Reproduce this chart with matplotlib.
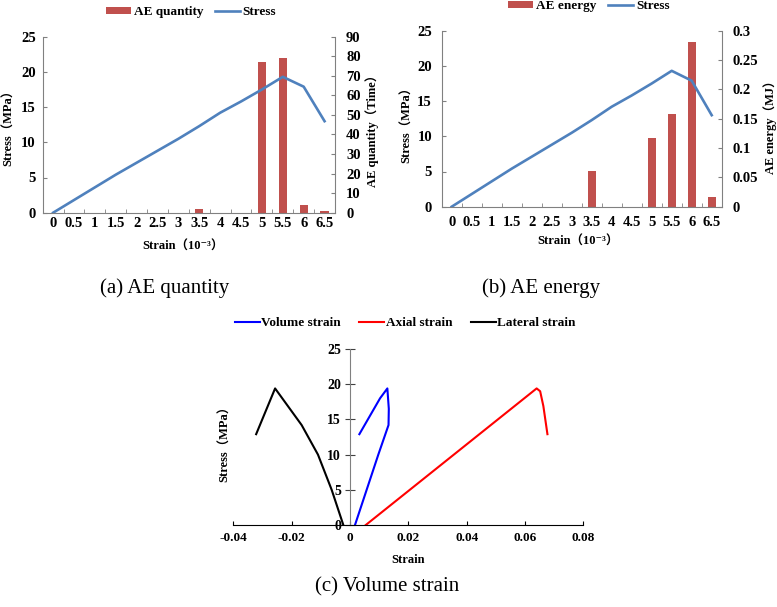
import numpy as np
import matplotlib
matplotlib.use("Agg")
import matplotlib.pyplot as plt
from matplotlib.ticker import FuncFormatter

# strain categories (10^-3) for panels (a) and (b)
strain_labels = ["0", "0.5", "1", "1.5", "2", "2.5", "3", "3.5",
                 "4", "4.5", "5", "5.5", "6", "6.5"]
stress = [0, 1.8, 3.6, 5.4, 7.1, 8.8, 10.5, 12.3, 14.2, 15.8, 17.5, 19.3, 17.9, 13.0]
ae_quantity = [0, 0, 0, 0, 0, 0, 0, 2, 0, 0, 77, 79, 4, 1]
ae_energy = [0, 0, 0, 0, 0, 0, 0, 0.061, 0, 0, 0.117, 0.158, 0.28, 0.016]

# panel (c) curves
volume_strain = [0.0017, 0.0057, 0.0097, 0.0132, 0.0133, 0.0128, 0.0103, 0.0032]
volume_stress = [0, 5, 10, 14.2, 16.5, 19.4, 18.0, 12.9]
axial_strain = [0.0054, 0.0640, 0.0652, 0.0663, 0.0677]
axial_stress = [0, 19.4, 19.0, 16.9, 12.9]
lateral_strain = [-0.0023, -0.0063, -0.0110, -0.0166, -0.0257, -0.0322]
lateral_stress = [0, 5, 10, 14.2, 19.4, 12.9]

RED = "#C0504D"
BLUE = "#4F81BD"
GRAY = "#808080"

plt.rcParams["font.family"] = ["Liberation Serif", "Noto Sans CJK SC", "DejaVu Serif"]
plt.rcParams["font.weight"] = "bold"
plt.rcParams["axes.labelweight"] = "bold"

W, H = 777, 607
fig = plt.figure(figsize=(W / 100, H / 100), dpi=100)


def box(left, top, right, bottom):
    return [left / W, 1 - bottom / H, (right - left) / W, (bottom - top) / H]


def fig_xy(x, y):
    return x / W, 1 - y / H


def combo_panel(rect, bars, bar_label, right_max, right_step, right_label,
                legend_xy, left_label_xy, right_label_xy, xlabel_xy, caption, caption_xy,
                ypad_left, ypad_right, xpad):
    ax = fig.add_axes(rect)
    ax2 = ax.twinx()
    idx = np.arange(len(strain_labels))

    bar_h = ax2.bar(idx, bars, width=0.4, color=RED, label=bar_label)
    line_h, = ax.plot(idx, stress, color=BLUE, lw=1.9, label="Stress")
    ax.set_zorder(ax2.get_zorder() + 1)
    ax.patch.set_visible(False)

    ax.set_xlim(-0.5, len(idx) - 0.5)
    ax.set_ylim(0, 25)
    ax.set_yticks(range(0, 26, 5))
    ax2.set_ylim(0, right_max)
    ax2.set_yticks(np.arange(0, right_max + 1e-9, right_step))
    ax2.yaxis.set_major_formatter(FuncFormatter(lambda v, p: f"{v:g}"))

    ax.set_xticks(idx)
    ax.set_xticklabels(strain_labels)
    ax.set_xticks(np.arange(-0.5, len(idx), 1), minor=True)
    ax.tick_params(axis="x", which="major", length=0, pad=xpad, labelsize=10.5)
    ax.tick_params(axis="x", which="minor", length=3, direction="in", color=GRAY)
    ax.tick_params(axis="y", length=3, direction="in", pad=ypad_left, labelsize=10.5, color=GRAY)
    ax2.tick_params(axis="y", length=3, direction="in", pad=ypad_right, labelsize=10.5, color=GRAY)

    ax.spines["top"].set_visible(False)
    ax2.spines["top"].set_visible(False)
    ax2.spines["left"].set_visible(False)
    ax2.spines["bottom"].set_visible(False)
    ax.spines["right"].set_visible(False)
    for s in ("left", "bottom"):
        ax.spines[s].set_color(GRAY)
    ax2.spines["right"].set_color(GRAY)

    ax.set_ylabel("Stress（MPa）", fontsize=9, ha="center", va="center")
    ax.yaxis.set_label_coords(*fig_xy(*left_label_xy), transform=fig.transFigure)
    ax2.set_ylabel(right_label, fontsize=9, ha="center", va="center")
    ax2.yaxis.set_label_coords(*fig_xy(*right_label_xy), transform=fig.transFigure)
    ax.set_xlabel("Strain（10⁻³）", fontsize=9, ha="center", va="center")
    ax.xaxis.set_label_coords(*fig_xy(*xlabel_xy), transform=fig.transFigure)

    fig.legend([bar_h, line_h], [bar_label, "Stress"], loc="center",
               bbox_to_anchor=fig_xy(*legend_xy), ncol=2, frameon=False,
               fontsize=9.5, handlelength=1.9, handleheight=0.45,
               handletextpad=0.2, columnspacing=0.9)

    fig.text(*fig_xy(*caption_xy), caption, fontsize=15, fontweight="normal",
             ha="center", va="center")
    return ax, ax2


# (a) AE quantity
combo_panel(box(42.7, 36.7, 335, 212.7), ae_quantity, "AE quantity", 90, 10,
            "AE quantity（Time）", legend_xy=(191, 12), left_label_xy=(9, 125),
            right_label_xy=(372, 128), xlabel_xy=(183, 247),
            caption="(a) AE quantity", caption_xy=(165, 288),
            ypad_left=5, ypad_right=8, xpad=3)

# (b) AE energy
combo_panel(box(441.7, 30.7, 721.7, 206.7), ae_energy, "AE energy", 0.3, 0.05,
            "AE energy（MJ）", legend_xy=(589, 6), left_label_xy=(407, 122),
            right_label_xy=(770, 124), xlabel_xy=(578, 242),
            caption="(b) AE energy", caption_xy=(541, 288),
            ypad_left=7, ypad_right=8, xpad=7)

# (c) Volume strain
ax3 = fig.add_axes(box(233.4, 349, 583.3, 525))
ax3.plot(volume_strain, volume_stress, color="#0000FF", lw=1.5, label="Volume strain")
ax3.plot(axial_strain, axial_stress, color="#FF0000", lw=1.5, label="Axial strain")
ax3.plot(lateral_strain, lateral_stress, color="#000000", lw=1.5, label="Lateral strain")
ax3.set_xlim(-0.04, 0.08)
ax3.set_ylim(0, 25)
ax3.set_xticks(np.arange(-0.04, 0.081, 0.02))
ax3.set_xticklabels(["-0.04", "-0.02", "0", "0.02", "0.04", "0.06", "0.08"])
ax3.set_yticks(range(0, 26, 5))
ax3.spines["left"].set_position(("data", 0))
ax3.spines["left"].set_color(GRAY)
ax3.spines["top"].set_visible(False)
ax3.spines["right"].set_visible(False)
ax3.tick_params(axis="x", length=3, direction="in", pad=5, labelsize=9.5)
ax3.tick_params(axis="y", length=7, direction="inout", pad=3, labelsize=10, color="#404040")
ax3.set_ylabel("Stress（MPa）", fontsize=9, ha="center", va="center")
ax3.yaxis.set_label_coords(*fig_xy(225, 441), transform=fig.transFigure)
ax3.set_xlabel("Strain", fontsize=9, ha="center", va="center")
ax3.xaxis.set_label_coords(*fig_xy(408, 560), transform=fig.transFigure)
fig.legend(*ax3.get_legend_handles_labels(), loc="center",
           bbox_to_anchor=fig_xy(405, 323), ncol=3, frameon=False, fontsize=9.5,
           handlelength=1.9, handletextpad=0.1, columnspacing=1.4)
fig.text(*fig_xy(387, 587), "(c) Volume strain", fontsize=15, fontweight="normal",
         ha="center", va="center")

fig.savefig("out.png", dpi=100)
